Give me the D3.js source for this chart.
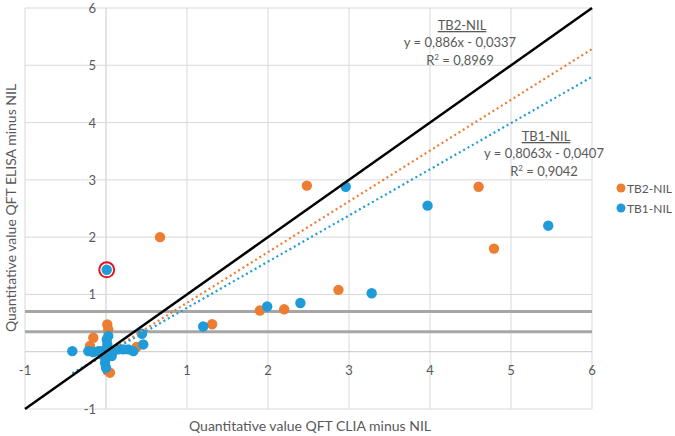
<!DOCTYPE html>
<html>
<head>
<meta charset="utf-8">
<script src="https://cdn.jsdelivr.net/npm/d3@7"></script>
<style>
  html, body { margin: 0; padding: 0; background: #fff; }
  svg { display: block; font-family: Lato, "Open Sans", sans-serif; }
</style>
</head>
<body>
<svg id="chart" width="675" height="436"></svg>
<script>
// ---- data ----
const tb2X = [0.016, 0.028, -0.157, -0.198, 0.379, 0.049, 1.31, 1.90, 2.20, 2.87, 0.667, 2.48, 4.60, 4.79];
const tb2Y = [0.476, 0.389, 0.244, 0.099, 0.082, -0.366, 0.48, 0.72, 0.74, 1.08, 2.00, 2.90, 2.88, 1.80];
const tb1X = [-0.416, -0.218, -0.157, -0.095, -0.053, 0.009, 0.016, 0.028, 0.09, 0.152, 0.214, 0.275, 0.337, 0.46, 0.444, -0.012, -0.012, 0.0, 0.07, 0.009, 2.96, 3.97, 5.46, 3.28, 1.99, 2.40, 1.20];
const tb1Y = [0.01, 0.01, -0.005, 0.01, 0.01, 0.215, 0.127, 0.274, 0.01, 0.04, 0.04, 0.04, 0.01, 0.127, 0.314, -0.105, -0.192, -0.28, -0.075, 1.43, 2.88, 2.55, 2.20, 1.02, 0.79, 0.85, 0.44];
const highlighted = [0.009, 1.43];
const xTicks = [-1, 0, 1, 2, 3, 4, 5, 6];
const yTicks = [-1, 0, 1, 2, 3, 4, 5, 6];
const thresholds = [0.35, 0.7];
const trendTB2 = { slope: 0.886, intercept: -0.0337, label: "TB2-NIL", eq: "y = 0,886x - 0,0337", r2: "0,8969" };
const trendTB1 = { slope: 0.8063, intercept: -0.0407, label: "TB1-NIL", eq: "y = 0,8063x - 0,0407", r2: "0,9042" };
const seriesNames = ["TB2-NIL", "TB1-NIL"];
const colors = { "TB2-NIL": "#ED7D31", "TB1-NIL": "#1F9BD9" };

// ---- chart ----
const svg = d3.select("#chart");
const x = d3.scaleLinear().domain([-1, 6]).range([25, 592]);
const y = d3.scaleLinear().domain([-1, 6]).range([409, 8]);
const textCol = "#595959";

// gridlines
const g = svg.append("g");
g.selectAll("line.vg").data(xTicks).join("line")
  .attr("x1", d => x(d)).attr("x2", d => x(d)).attr("y1", y(-1)).attr("y2", y(6))
  .attr("stroke", d => d === 0 ? "#c8c8c8" : "#d9d9d9").attr("stroke-width", 1);
g.selectAll("line.hg").data(yTicks).join("line")
  .attr("y1", d => y(d)).attr("y2", d => y(d)).attr("x1", x(-1)).attr("x2", x(6))
  .attr("stroke", d => d === 0 ? "#c8c8c8" : "#d9d9d9").attr("stroke-width", 1);

// tick labels
svg.append("g").selectAll("text").data(xTicks).join("text")
  .attr("x", d => x(d)).attr("y", y(0) + 23)
  .attr("text-anchor", "middle").attr("font-size", 13).attr("fill", textCol)
  .text(d => d);
svg.append("g").selectAll("text").data(yTicks).join("text")
  .attr("x", x(0) - 10).attr("y", d => y(d) + 5)
  .attr("text-anchor", "end").attr("font-size", 13).attr("fill", textCol)
  .text(d => d);

// threshold lines
svg.append("g").selectAll("line").data(thresholds).join("line")
  .attr("x1", x(-1)).attr("x2", x(6)).attr("y1", d => y(d)).attr("y2", d => y(d))
  .attr("stroke", "#a6a6a6").attr("stroke-width", 3);

// points
function drawPoints(xs, ys, col) {
  svg.append("g").selectAll("circle").data(xs.map((v, i) => [v, ys[i]])).join("circle")
    .attr("cx", d => x(d[0])).attr("cy", d => y(d[1])).attr("r", 5.2)
    .attr("fill", col);
}
drawPoints(tb2X, tb2Y, colors["TB2-NIL"]);
drawPoints(tb1X, tb1Y, colors["TB1-NIL"]);

// highlight circle
svg.append("circle").attr("cx", x(highlighted[0])).attr("cy", y(highlighted[1])).attr("r", 7.5)
  .attr("fill", "none").attr("stroke", "#E0161E").attr("stroke-width", 2);

// trendlines
function trend(t, xs, col) {
  const x0 = d3.min(xs), x1 = 6;
  svg.append("line")
    .attr("x1", x(x0)).attr("y1", y(t.slope * x0 + t.intercept))
    .attr("x2", x(x1)).attr("y2", y(t.slope * x1 + t.intercept))
    .attr("stroke", col).attr("stroke-width", 2.2)
    .attr("stroke-dasharray", "2,3");
}
trend(trendTB2, tb2X, colors["TB2-NIL"]);
trend(trendTB1, tb1X, colors["TB1-NIL"]);

// identity line
svg.append("line").attr("x1", x(-1)).attr("y1", y(-1)).attr("x2", x(6)).attr("y2", y(6))
  .attr("stroke", "#000").attr("stroke-width", 2.5);

// trend annotations
function annot(t, cx, cy) {
  const a = svg.append("g").attr("fill", textCol).attr("font-size", 13).attr("text-anchor", "middle");
  a.append("text").attr("x", cx).attr("y", cy).attr("text-decoration", "underline").text(t.label);
  a.append("text").attr("x", cx - 2).attr("y", cy + 17).text(t.eq);
  const r = a.append("text").attr("x", cx - 2).attr("y", cy + 35);
  r.append("tspan").text("R");
  r.append("tspan").attr("font-size", 8).attr("dy", -5).text("2");
  r.append("tspan").attr("dy", 5).text(" = " + t.r2);
}
annot(trendTB2, 462, 30);
annot(trendTB1, 546, 141);

// legend
const leg = svg.append("g");
seriesNames.forEach((s, i) => {
  const ly = 188 + i * 20;
  leg.append("circle").attr("cx", 621).attr("cy", ly).attr("r", 4.5).attr("fill", colors[s]);
  leg.append("text").attr("x", 627).attr("y", ly + 4.5).attr("font-size", 12).attr("fill", textCol).text(s);
});

// axis titles
svg.append("text").attr("x", 310).attr("y", 431).attr("text-anchor", "middle")
  .attr("font-size", 14).attr("fill", textCol).text("Quantitative value QFT CLIA minus NIL");
svg.append("text").attr("transform", "translate(16,208) rotate(-90)").attr("text-anchor", "middle")
  .attr("font-size", 14).attr("fill", textCol).text("Quantitative value QFT ELISA minus NIL");
</script>
</body>
</html>
